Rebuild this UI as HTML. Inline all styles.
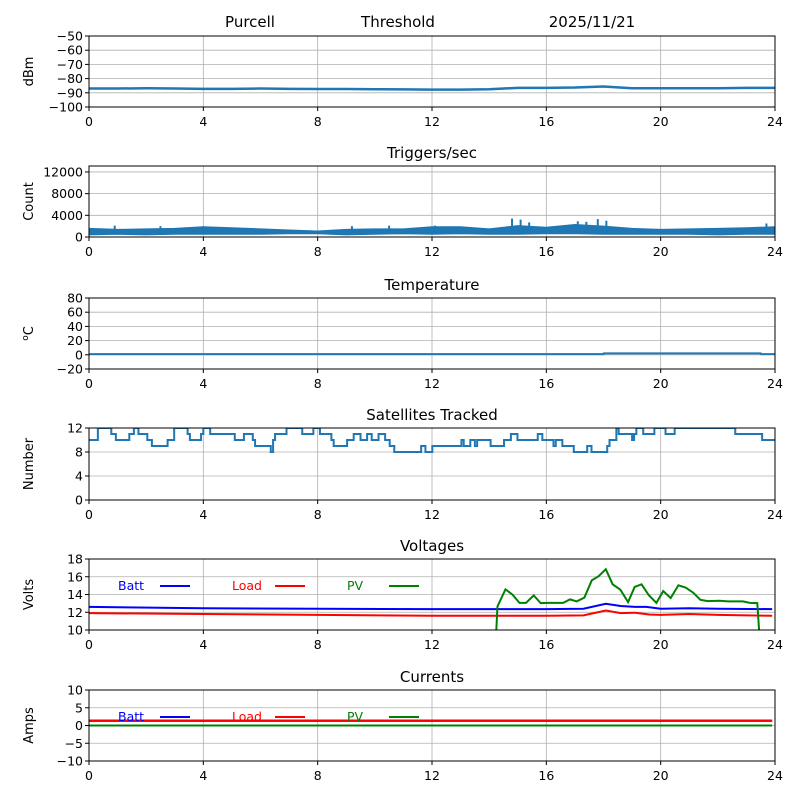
<!DOCTYPE html>
<html><head><meta charset="utf-8"><style>
body{margin:0;background:#fff}
svg text{font-family:"DejaVu Sans","Liberation Sans",sans-serif}
</style></head><body>
<svg id="c" width="800" height="800" xmlns="http://www.w3.org/2000/svg">
<rect width="800" height="800" fill="#fff"/>
<text x="250" y="27" font-size="15" text-anchor="middle">Purcell</text>
<text x="398" y="27" font-size="15" text-anchor="middle">Threshold</text>
<text x="592" y="27" font-size="15" text-anchor="middle">2025/11/21</text>
</svg>
<script>
// ---- data ----
const xTicks=[0,4,8,12,16,20,24];
const dbmHours=[0,1,2,3,4,5,6,7,8,9,10,11,12,13,14,15,16,17,18,19,20,21,22,23,24];
const dbmValues=[-87,-87,-86.8,-87,-87.2,-87.2,-87,-87.2,-87.3,-87.3,-87.5,-87.6,-87.8,-87.8,-87.5,-86.5,-86.5,-86.3,-85.6,-86.8,-86.8,-86.8,-86.8,-86.5,-86.5];
const trigHours=[0,1,2,3,4,5,6,7,8,9,10,11,12,13,14,15,16,17,18,19,20,21,22,23,24];
const trigLow=[400,500,400,500,500,500,500,600,600,400,500,600,500,600,500,500,600,600,500,500,500,500,400,500,500];
const trigHigh=[1600,1400,1500,1600,1900,1700,1500,1300,1100,1400,1500,1500,1900,1900,1500,2100,1800,2300,2000,1600,1400,1500,1600,1700,1900];
const trigSpikeHours=[0.9,2.5,4.0,6.2,9.2,10.5,12.1,14.8,15.1,15.4,17.1,17.4,17.8,18.1,23.7];
const trigSpikeValues=[2100,2000,2000,1500,2000,2100,2100,3400,3200,2700,2900,2800,3300,3000,2500];
const tempHours=[0,18,18.01,23.5,23.51,24];
const tempValues=[1,1,2,2,1,1];
const satHours=[0,0.31,0.78,0.94,1.41,1.57,1.73,2.04,2.2,2.75,2.98,3.45,3.53,3.92,4.0,4.24,4.71,5.1,5.42,5.73,5.81,6.36,6.44,6.51,6.91,7.46,7.85,8.08,8.48,8.56,9.03,9.26,9.5,9.73,9.89,10.13,10.36,10.52,10.68,11.62,11.77,12.01,12.09,13.03,13.11,13.34,13.5,13.58,14.05,14.52,14.76,14.99,15.7,15.86,16.25,16.33,16.56,16.96,17.43,17.58,18.13,18.21,18.45,18.53,19.0,19.07,19.15,19.39,19.78,20.17,20.49,22.61,23.55,24];
const satValues=[10,12,11,10,11,12,11,10,9,10,12,11,10,11,12,11,11,10,11,10,9,8,10,11,12,11,12,11,10,9,10,11,10,11,10,11,10,9,8,9,8,9,9,10,9,10,9,10,9,10,11,10,11,10,9,10,9,8,9,8,9,10,12,11,10,11,12,11,12,11,12,11,10,10];
const vBattH=[0,4,8,12,16,17.3,18.08,18.6,19.1,19.5,20,21,22,23.9];
const vBattV=[12.6,12.45,12.4,12.35,12.35,12.4,12.95,12.7,12.6,12.6,12.4,12.45,12.4,12.35];
const vLoadH=[0,4,8,12,16,17.3,18.08,18.6,19.1,19.6,20,21,22,23.9];
const vLoadV=[11.9,11.8,11.7,11.6,11.6,11.65,12.2,11.9,11.95,11.75,11.7,11.8,11.7,11.6];
const vPvH=[14.1,14.29,14.57,14.82,15.06,15.29,15.56,15.8,16.06,16.59,16.83,17.06,17.33,17.59,17.83,18.08,18.32,18.59,18.86,19.09,19.33,19.59,19.85,20.09,20.35,20.62,20.88,21.14,21.39,21.65,22.06,22.35,22.88,23.12,23.38,23.65];
const vPvV=[0,12.65,14.58,13.98,13.06,13.06,13.9,13.03,13.06,13.06,13.45,13.22,13.64,15.6,16.06,16.85,15.15,14.54,13.14,14.85,15.15,13.9,13.06,14.39,13.6,15.04,14.77,14.2,13.4,13.25,13.3,13.22,13.22,13.06,13.03,0];
const iH=[0,12,23.9];
const iBatt=[1.3,1.3,1.3];
const iLoad=[1.4,1.4,1.4];
const iPv=[0,0,0];

// ---- drawing ----
const svg=document.getElementById('c');
const NS='http://www.w3.org/2000/svg';
const X0=89,X1=775;
function mk(tag,at,parent){const e=document.createElementNS(NS,tag);for(const k in at)e.setAttribute(k,at[k]);(parent||svg).appendChild(e);return e;}
function xs(h){return X0+(h/24)*(X1-X0);}
function panel(name,title,ylabel,top,bot,ymin,ymax,yticks,tickLabels){
  const g=mk('g',{});
  
  
  const ys=v=>bot-(v-ymin)/(ymax-ymin)*(bot-top);
  xTicks.forEach(t=>{const l=mk('line',{x1:xs(t),x2:xs(t),y1:top,y2:bot,stroke:'#b0b0b0','stroke-width':0.8},g);
    });
  yticks.forEach(t=>{const l=mk('line',{x1:X0,x2:X1,y1:ys(t),y2:ys(t),stroke:'#b0b0b0','stroke-width':0.8},g);
    });
  const clipId='cl'+name;
  const cp=mk('clipPath',{id:clipId},g);mk('rect',{x:X0,y:top,width:X1-X0,height:bot-top},cp);
  const plot=mk('g',{'clip-path':'url(#'+clipId+')'},g);
  
  const t=mk('text',{x:(X0+X1)/2,y:top-8,'font-size':15,'text-anchor':'middle'},g);t.textContent=title;
  
  const yl=mk('text',{x:0,y:0,'font-size':13,'text-anchor':'middle',transform:`translate(33,${(top+bot)/2}) rotate(-90)`},g);
  yl.innerHTML=ylabel;
  
  yticks.forEach((v,i)=>{mk('line',{x1:X0-4,x2:X0,y1:ys(v),y2:ys(v),stroke:'#000'},g);
    const tt=mk('text',{x:X0-6,y:ys(v)+4.5,'font-size':12.5,'text-anchor':'end'},g);tt.textContent=tickLabels[i];
    });
  xTicks.forEach(v=>{mk('line',{x1:xs(v),x2:xs(v),y1:bot,y2:bot+4,stroke:'#000'},g);
    const tt=mk('text',{x:xs(v),y:bot+19,'font-size':12.5,'text-anchor':'middle'},g);tt.textContent=v;
    });
  const fr=mk('rect',{x:X0,y:top,width:X1-X0,height:bot-top,fill:'none',stroke:'#000','stroke-width':1},g);
  
  return {plot,ys,g};
}
function line(p,H,V,color,name,w,step){
  let d='';H.forEach((h,i)=>{const x=xs(h),y=p.ys(V[i]);
    if(i===0)d+=`M${x},${y}`;else if(step)d+=`H${x}V${y}`;else d+=`L${x},${y}`;});
  if(step)d+=`H${xs(24)}`;
  const e=mk('path',{d,fill:'none',stroke:color,'stroke-width':w||2},p.plot);
  
}
function legend(p,top){
  const items=[['Batt','blue',118,160],['Load','red',232,275],['PV','green',347,389]];
  items.forEach(it=>{const t=mk('text',{x:it[2],y:top+31,'font-size':12.5,fill:it[1]},p.g);t.textContent=it[0];
    
    const l=mk('line',{x1:it[3],x2:it[3]+30,y1:top+27,y2:top+27,stroke:it[1],'stroke-width':2},p.g);
    });
}
const C='#1f77b4';
let p=panel('dbm','','dBm',36,107,-100,-50,[-50,-60,-70,-80,-90,-100],['−50','−60','−70','−80','−90','−100']);
line(p,dbmHours,dbmValues,C,'dbm-line',2.5);
p=panel('triggers','Triggers/sec','Count',166,237,0,13100,[0,4000,8000,12000],['0','4000','8000','12000']);
{let d='';trigHours.forEach((h,i)=>{d+=(i?'L':'M')+xs(h)+','+p.ys(trigHigh[i]);});
 for(let i=trigHours.length-1;i>=0;i--)d+='L'+xs(trigHours[i])+','+p.ys(trigLow[i]);d+='Z';
 const e=mk('path',{d,fill:C,stroke:C,'stroke-width':1},p.plot);
 
 trigSpikeHours.forEach((h,i)=>{const s=mk('line',{x1:xs(h),x2:xs(h),y1:p.ys(800),y2:p.ys(trigSpikeValues[i]),stroke:C,'stroke-width':2},p.plot);
  });}
p=panel('temperature','Temperature','<tspan font-size="9" dy="-5">o</tspan><tspan dy="5">C</tspan>',298,369,-20,80,[-20,0,20,40,60,80],['−20','0','20','40','60','80']);
line(p,tempHours,tempValues,C,'temperature-line',2);
p=panel('satellites','Satellites Tracked','Number',428,500,0,12,[0,4,8,12],['0','4','8','12']);
line(p,satHours,satValues,C,'satellites-line',2,true);
p=panel('voltages','Voltages','Volts',559,630,10,18,[10,12,14,16,18],['10','12','14','16','18']);
line(p,vBattH,vBattV,'blue','voltage-batt-line');
line(p,vLoadH,vLoadV,'red','voltage-load-line');
line(p,vPvH,vPvV,'green','voltage-pv-line');
legend(p,559);
p=panel('currents','Currents','Amps',690,761,-10,10,[-10,-5,0,5,10],['−10','−5','0','5','10']);
line(p,iH,iBatt,'blue','current-batt-line');
line(p,iH,iLoad,'red','current-load-line');
line(p,iH,iPv,'green','current-pv-line');
legend(p,690);
</script>
</body></html>
